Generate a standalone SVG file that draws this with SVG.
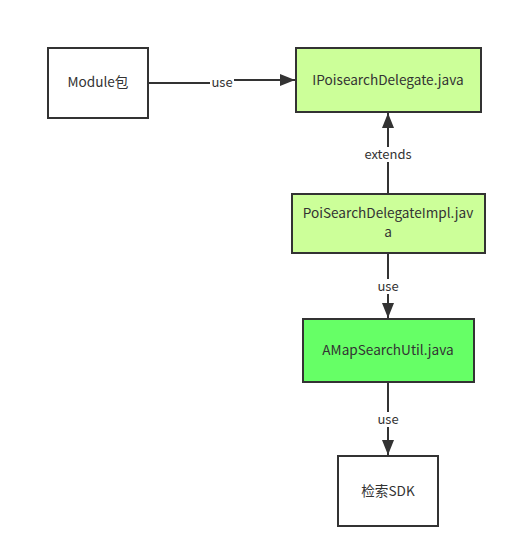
<svg xmlns="http://www.w3.org/2000/svg" width="516" height="558" viewBox="0 0 516 558">
<defs>
<marker id="arr" markerWidth="16" markerHeight="12" refX="15" refY="6" orient="auto" markerUnits="userSpaceOnUse">
<path d="M0,0 L15,6 L0,12 Z" fill="#333"/>
</marker>
<style>
.box{stroke:#333;stroke-width:2}
.t{font-family:"Noto Sans CJK SC","Open Sans",sans-serif;font-size:13.6px;fill:#333;text-anchor:middle}
.c{fill:none;stroke:#333;stroke-width:2}
.lb{font-family:"Noto Sans CJK SC","Open Sans",sans-serif;font-size:13px;fill:#333;text-anchor:middle}
</style>
</defs>
<rect width="516" height="558" fill="#fff"/>
<g id="connectors">
<path class="c" d="M148,83 H222 V80 H295" marker-end="url(#arr)"/>
<rect x="210" y="74" width="24" height="15" fill="#fff"/>
<text class="lb" x="222" y="87">use</text>
<path class="c" d="M388,194 V113" marker-end="url(#arr)"/>
<rect x="362" y="147" width="52" height="15" fill="#fff"/>
<text class="lb" x="388" y="159">extends</text>
<path class="c" d="M388,253 V318" marker-end="url(#arr)"/>
<rect x="376" y="279" width="24" height="15" fill="#fff"/>
<text class="lb" x="388" y="291">use</text>
<path class="c" d="M388,382 V455" marker-end="url(#arr)"/>
<rect x="376" y="412" width="24" height="15" fill="#fff"/>
<text class="lb" x="388" y="424">use</text>
</g>
<g id="module">
<rect class="box" x="48" y="48" width="100" height="70" fill="#fff"/>
<text class="t" x="98" y="87">Module包</text>
</g>
<g id="ipoisearch">
<rect class="box" x="296" y="48" width="185" height="64" fill="#ccff99"/>
<text class="t" x="388" y="85">IPoisearchDelegate.java</text>
</g>
<g id="poisearchimpl">
<rect class="box" x="292" y="194" width="193" height="59" fill="#ccff99"/>
<text class="t" x="388" y="218">PoiSearchDelegateImpl.jav</text>
<text class="t" x="388" y="237">a</text>
</g>
<g id="amap">
<rect class="box" x="303" y="319" width="171" height="63" fill="#66ff66"/>
<text class="t" x="388" y="355">AMapSearchUtil.java</text>
</g>
<g id="sdk">
<rect class="box" x="338" y="456" width="100" height="70" fill="#fff"/>
<text class="t" x="388" y="496">检索SDK</text>
</g>
</svg>
